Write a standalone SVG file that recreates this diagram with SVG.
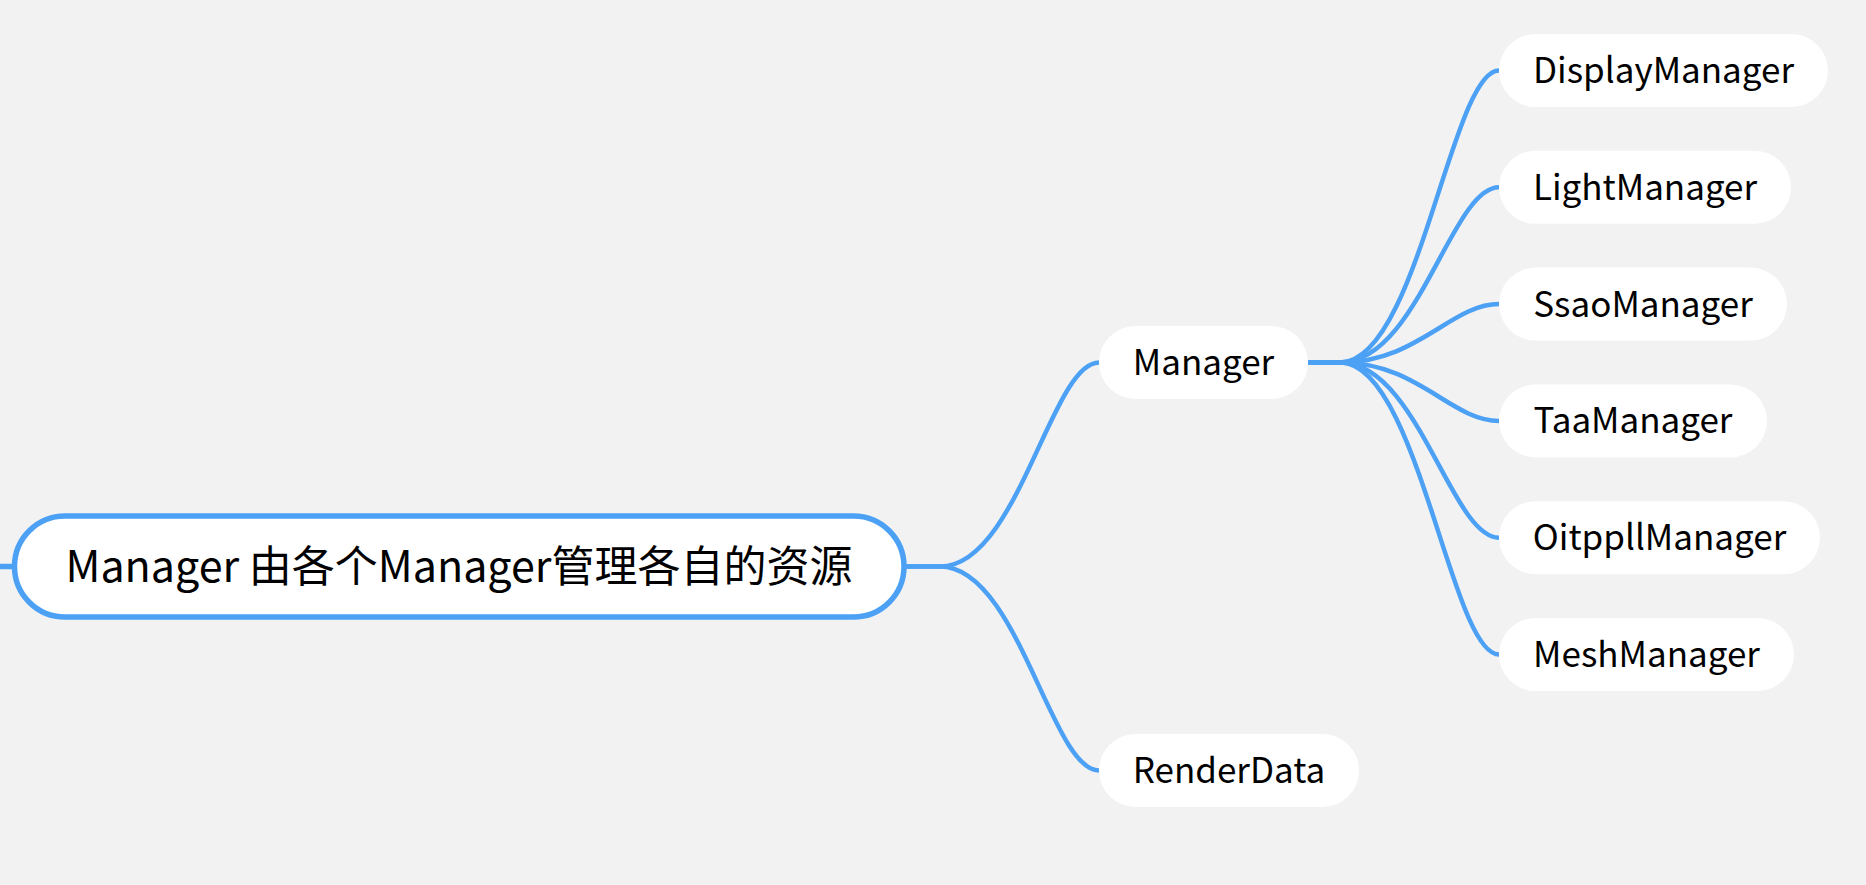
<svg xmlns="http://www.w3.org/2000/svg" width="1866" height="885" viewBox="0 0 1866 885">
  <style>
    .bg { fill: #f2f2f2; }
    .edge { fill: none; stroke: #4da1f5; stroke-width: 4.5; stroke-linecap: butt; }
    .rootbox { fill: #ffffff; stroke: #4da1f5; stroke-width: 5.5; }
    .box { fill: #ffffff; }
    .t { font-family: "Noto Sans CJK SC", "Noto Sans", sans-serif; fill: #000000; }
    .rt { font-size: 43px; }
    .ct { font-size: 35px; }
  </style>
  <rect class="bg" x="0" y="0" width="1866" height="885"/>
  <g id="connectors">
    <path class="edge" d="M0,566.5 L14,566.5" style="stroke-width:5.5"/>
    <path class="edge" d="M904,566.5 L940,566.5 C1018,566.5 1051,362.5 1099,362.5"/>
    <path class="edge" d="M904,566.5 L940,566.5 C1018,566.5 1051,770.5 1099,770.5"/>
    <path class="edge" d="M1308,362.5 L1340,362.5 C1418,362.5 1451,70.5 1499,70.5"/>
    <path class="edge" d="M1308,362.5 L1340,362.5 C1418,362.5 1451,187.3 1499,187.3"/>
    <path class="edge" d="M1308,362.5 L1340,362.5 C1418,362.5 1451,304.1 1499,304.1"/>
    <path class="edge" d="M1308,362.5 L1340,362.5 C1418,362.5 1451,420.9 1499,420.9"/>
    <path class="edge" d="M1308,362.5 L1340,362.5 C1418,362.5 1451,537.7 1499,537.7"/>
    <path class="edge" d="M1308,362.5 L1340,362.5 C1418,362.5 1451,654.5 1499,654.5"/>
  </g>
  <g id="root">
    <rect class="rootbox" x="14.5" y="516" width="889.5" height="101" rx="50.5" ry="50.5"/>
    <text class="t rt" x="459" y="582" text-anchor="middle">Manager 由各个Manager管理各自的资源</text>
  </g>
  <g id="manager">
    <rect class="box" x="1099" y="326" width="209" height="73" rx="36.5"/>
    <text class="t ct" x="1203.5" y="375" text-anchor="middle">Manager</text>
  </g>
  <g id="renderdata">
    <rect class="box" x="1099" y="734" width="260" height="73" rx="36.5"/>
    <text class="t ct" x="1229" y="783" text-anchor="middle">RenderData</text>
  </g>
  <g id="displaymanager">
    <rect class="box" x="1499" y="34" width="329" height="73" rx="36.5"/>
    <text class="t ct" x="1663.5" y="83" text-anchor="middle">DisplayManager</text>
  </g>
  <g id="lightmanager">
    <rect class="box" x="1499" y="150.8" width="292" height="73" rx="36.5"/>
    <text class="t ct" x="1645" y="199.8" text-anchor="middle">LightManager</text>
  </g>
  <g id="ssaomanager">
    <rect class="box" x="1499" y="267.6" width="288" height="73" rx="36.5"/>
    <text class="t ct" x="1643" y="316.6" text-anchor="middle">SsaoManager</text>
  </g>
  <g id="taamanager">
    <rect class="box" x="1499" y="384.4" width="268" height="73" rx="36.5"/>
    <text class="t ct" x="1633" y="433.4" text-anchor="middle">TaaManager</text>
  </g>
  <g id="oitppllmanager">
    <rect class="box" x="1499" y="501.2" width="321" height="73" rx="36.5"/>
    <text class="t ct" x="1659.5" y="550.2" text-anchor="middle">OitppllManager</text>
  </g>
  <g id="meshmanager">
    <rect class="box" x="1499" y="618" width="295" height="73" rx="36.5"/>
    <text class="t ct" x="1646.5" y="667" text-anchor="middle">MeshManager</text>
  </g>
</svg>
